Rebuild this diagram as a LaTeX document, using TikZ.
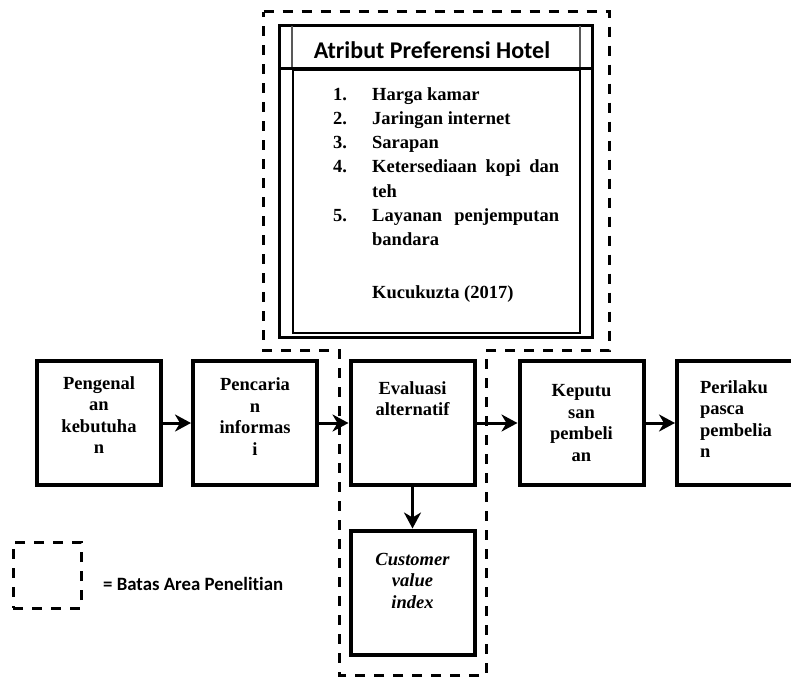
\documentclass[tikz,border=0pt]{standalone}
\usepackage{fontspec}
\setmainfont{Liberation Serif}
\newfontfamily\carlito[Ligatures=NoCommon]{Carlito}
\usetikzlibrary{arrows.meta}
\newcommand\bodyfont{\fontsize{18.5}{21.5}\selectfont\bfseries}
\newcommand\btext[3]{\parbox[c][116pt][t]{116pt}{\bodyfont#1\vspace*{#2}\strut #3}}
\begin{document}
\begin{tikzpicture}[x=1pt,y=-1pt,
  stepbox/.style={draw, line width=4pt, inner sep=0pt, minimum width=124pt, minimum height=124pt},
  flow/.style={line width=3pt, -{Stealth[length=16pt,width=17pt,inset=5pt]}},
  area/.style={line width=3pt, dash pattern=on 10pt off 9pt},
  itemtext/.style={inner sep=0pt, anchor=base west, font=\bodyfont},
]
\useasboundingbox (0,0) rectangle (791,680);

% research area boundary
\draw[area] (263.5,11.5) -- (609.5,11.5) -- (609.5,350) -- (486,350) -- (486,675) -- (339.5,675) -- (339.5,350) -- (263.5,350) -- cycle;

% hotel attribute box
\node[draw, line width=3pt, inner sep=0pt, minimum width=313pt, minimum height=312pt] (hotel) at (436,181.5) {};
\draw[line width=3pt] (hotel.west |- 0,68) -- (hotel.east |- 0,68);
\draw[line width=1.2pt, gray!70!black] (292,25.5) -- (292,66.5);
\draw[line width=1.2pt, gray!70!black] (580,25.5) -- (580,66.5);
\node[draw, line width=1.5pt, inner sep=0pt, minimum width=287pt, minimum height=263pt] (list) at (436.5,201.5) {};
\node[inner sep=0pt, anchor=base, font=\carlito\fontsize{24}{26}\selectfont\bfseries] (title) at (432,58) {Atribut Preferensi Hotel};

\node[itemtext] (n1) at (333,100) {1.};
\node[itemtext] (i1) at (372,100) {Harga kamar};
\node[itemtext] (n2) at (333,124.3) {2.};
\node[itemtext] (i2) at (372,124.3) {Jaringan internet};
\node[itemtext] (n3) at (333,148.6) {3.};
\node[itemtext] (i3) at (372,148.6) {Sarapan};
\node[itemtext] (n4) at (333,172.9) {4.};
\node[itemtext] (i4) at (372,172.9) {\makebox[187pt][s]{Ketersediaan kopi dan}};
\node[itemtext] (i4b) at (372,197.2) {teh};
\node[itemtext] (n5) at (333,221.5) {5.};
\node[itemtext] (i5) at (372,221.5) {\makebox[187pt][s]{Layanan penjemputan}};
\node[itemtext] (i5b) at (372,245.8) {bandara};
\node[itemtext] (src) at (372,298.3) {Kucukuzta (2017)};

% process boxes
\node[stepbox] (b1) at (99,423) {\btext{\centering}{9.3pt}{Pengenal\\an\\kebutuha\\n}};
\node[stepbox] (b2) at (255,423) {\btext{\centering}{10.6pt}{Pencaria\\n\\informas\\i}};
\node[stepbox] (b3) at (412.5,423) {\btext{\centering}{14pt}{Evaluasi\\alternatif}};
\node[stepbox] (b4) at (581.5,423) {\btext{\centering}{16.6pt}{Keputu\\san\\pembeli\\an}};
\node[stepbox, minimum width=130pt] (b5) at (742,423) {\btext{\raggedright\leftskip=16pt}{13.3pt}{Perilaku\\pasca\\pembelia\\n}};
\node[stepbox] (cvi) at (412.5,592.5) {\btext{\centering\itshape}{15.5pt}{Customer\\value\\index}};

\draw[flow] (b1) -- (b2);
\draw[flow] (b2) -- (b3);
\draw[flow] (b3) -- (b4);
\draw[flow] (b4) -- (b5);
\draw[flow] (b3) -- (cvi);

% legend
\node[draw, area, inner sep=0pt, minimum width=68pt, minimum height=66pt] (legbox) at (47,575) {};
\node[inner sep=0pt, anchor=base west, font=\carlito\fontsize{18.8}{20}\selectfont\bfseries] (legtext) at (103,590) {= Batas Area Penelitian};
\end{tikzpicture}
\end{document}
